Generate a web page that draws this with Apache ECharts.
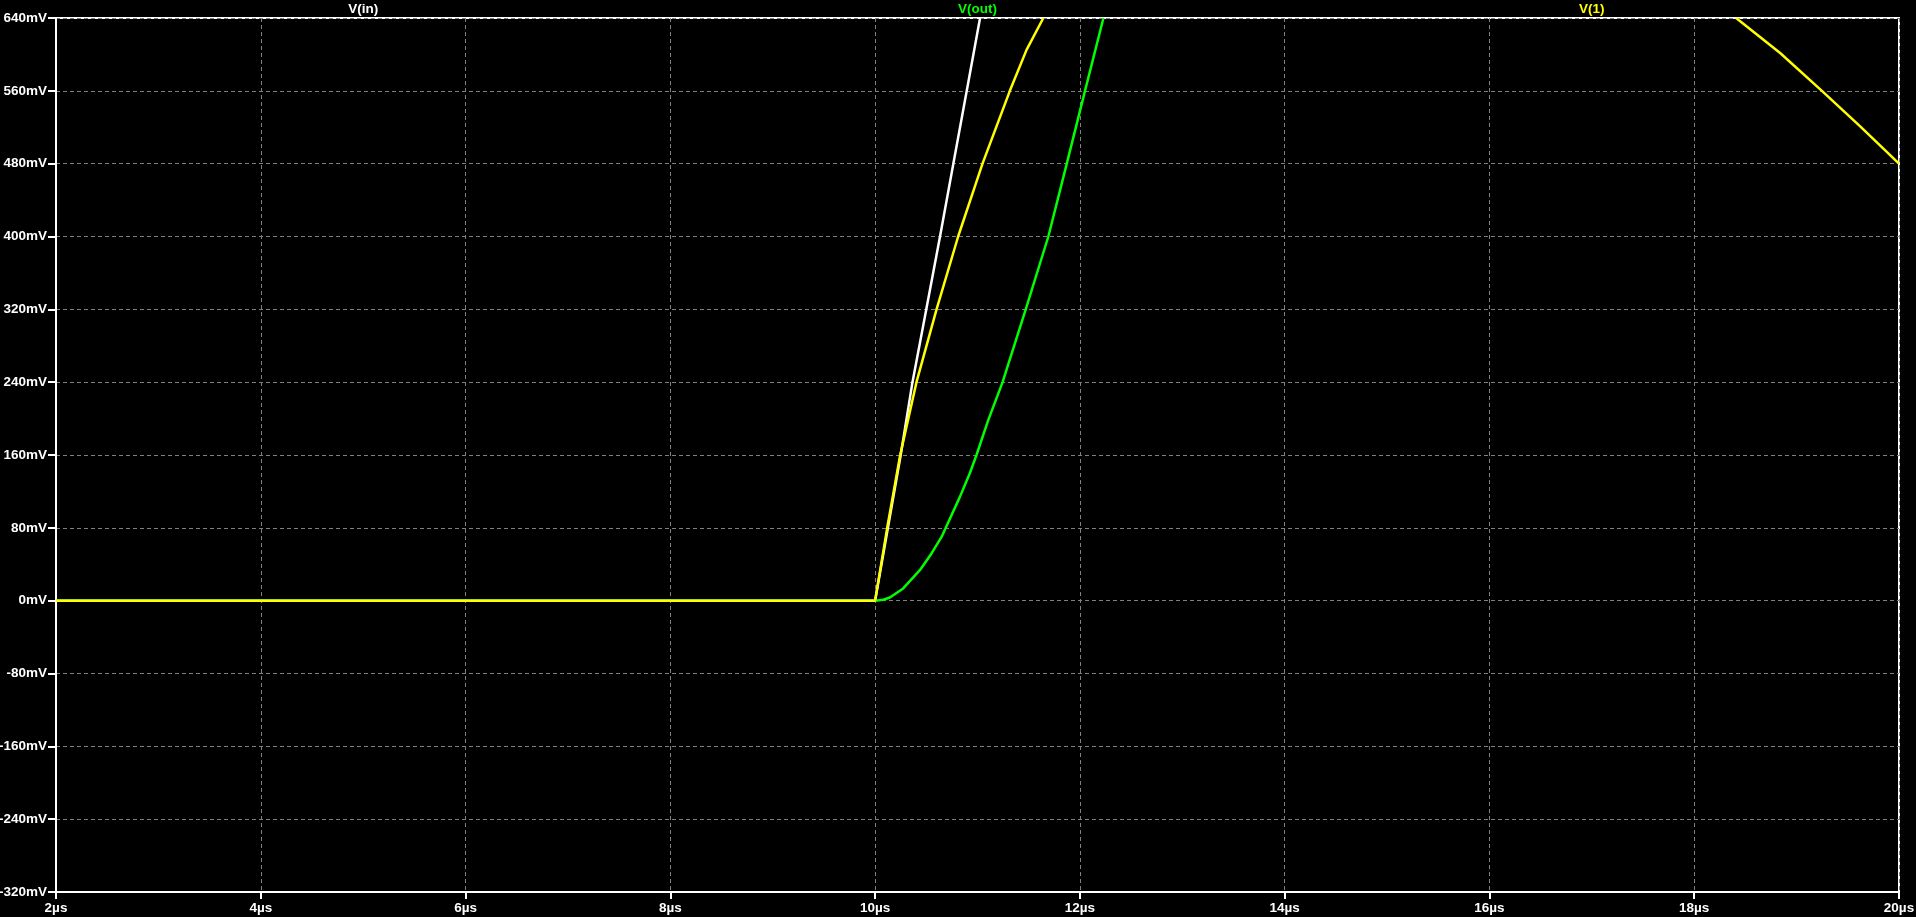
<!DOCTYPE html>
<html>
<head>
<meta charset="utf-8">
<script src="https://cdn.jsdelivr.net/npm/echarts@6/dist/echarts.min.js"></script>
<style>
  html, body { margin: 0; padding: 0; background: #000; }
  #chart { width: 1916px; height: 917px; }
</style>
</head>
<body>
<div id="chart"></div>
<script>
  // time axis (µs) and voltage axis (mV)
  var xMin = 2, xMax = 20, xStep = 2;
  var yMin = -320, yMax = 640, yStep = 80;

  // trace names, as shown above the plot
  var traceNames = ['V(in)', 'V(out)', 'V(1)'];
  var traceColors = ['#ffffff', '#00ff00', '#ffff00'];

  // V(in): white
  var vinT = [2, 10, 10.125, 10.25, 10.365, 10.5, 10.634, 10.764, 10.895, 11.025];
  var vinV = [0, 0, 80, 160, 240, 320, 400, 480, 560, 640];

  // V(out): green
  var voutT = [2, 10, 10.08, 10.144, 10.274, 10.437, 10.551, 10.649, 10.69, 10.828, 10.925, 10.99, 11.104, 11.245, 11.471, 11.692, 11.872, 12.05, 12.23];
  var voutV = [0, 0, 1, 3.5, 13.4, 33.5, 51.9, 70, 80, 114, 140, 160, 198, 240, 320, 400, 480, 560, 640];

  // V(1): yellow (off the top of the plot between ~11.6µs and ~18.4µs)
  var v1T = [2, 10, 10.118, 10.245, 10.404, 10.6, 10.811, 11.049, 11.316, 11.479, 11.643,
             15, 18.409, 18.839, 19.247, 19.621, 20];
  var v1V = [0, 0, 80, 160, 240, 320, 400, 480, 560, 605, 640,
             null, 640, 601.5, 560, 521, 480];

  function pairs(ts, vs) {
    var out = [];
    for (var i = 0; i < ts.length; i++) {
      out.push([ts[i], vs[i] === null ? '-' : vs[i]]);
    }
    return out;
  }

  var font = "'Liberation Sans', Arial, sans-serif";
  var gridLeft = 56, gridRight = 17, gridTop = 18, gridBottom = 25;
  var plotW = 1916 - gridLeft - gridRight;

  var myChart = echarts.init(document.getElementById('chart'), null, { renderer: 'canvas' });

  var series = [
    { name: traceNames[0], data: pairs(vinT, vinV), color: traceColors[0] },
    { name: traceNames[1], data: pairs(voutT, voutV), color: traceColors[1] },
    { name: traceNames[2], data: pairs(v1T, v1V), color: traceColors[2] }
  ].map(function (s) {
    return {
      name: s.name,
      type: 'line',
      data: s.data,
      showSymbol: false,
      symbol: 'none',
      clip: true,
      connectNulls: false,
      lineStyle: { color: s.color, width: 2.5 },
      itemStyle: { color: s.color }
    };
  });

  var labels = traceNames.map(function (name, i) {
    return {
      type: 'text',
      x: gridLeft + plotW * (1 + 2 * i) / 6,
      y: 9,
      style: {
        text: name,
        fill: traceColors[i],
        font: 'bold 13.5px ' + font,
        align: 'center',
        verticalAlign: 'middle'
      }
    };
  });

  var option = {
    backgroundColor: '#000',
    animation: false,
    grid: {
      left: gridLeft, right: gridRight, top: gridTop, bottom: gridBottom,
      outerBoundsMode: 'none',
      containLabel: false,
      show: true, borderColor: '#fff', borderWidth: 2, backgroundColor: '#000'
    },
    xAxis: {
      type: 'value',
      min: xMin, max: xMax, interval: xStep,
      axisLine: { show: true, onZero: false, lineStyle: { color: '#fff', width: 2 } },
      axisTick: { show: true, inside: false, length: 7, lineStyle: { color: '#fff', width: 2 } },
      axisLabel: {
        color: '#fff', fontFamily: font, fontWeight: 'bold', fontSize: 13.5, margin: 9,
        formatter: '{value}µs', showMinLabel: true, showMaxLabel: true, hideOverlap: false
      },
      splitLine: { show: true, lineStyle: { color: '#808080', width: 1, type: [4, 3] } }
    },
    yAxis: {
      type: 'value',
      min: yMin, max: yMax, interval: yStep,
      axisLine: { show: true, onZero: false, lineStyle: { color: '#fff', width: 2 } },
      axisTick: { show: true, inside: false, length: 8, lineStyle: { color: '#fff', width: 2 } },
      axisLabel: {
        color: '#fff', fontFamily: font, fontWeight: 'bold', fontSize: 13.5, margin: 9,
        formatter: '{value}mV', showMinLabel: true, showMaxLabel: true, hideOverlap: false
      },
      splitLine: { show: true, lineStyle: { color: '#808080', width: 1, type: [4, 3] } }
    },
    graphic: labels,
    series: series
  };
  myChart.setOption(option);
</script>
</body>
</html>
